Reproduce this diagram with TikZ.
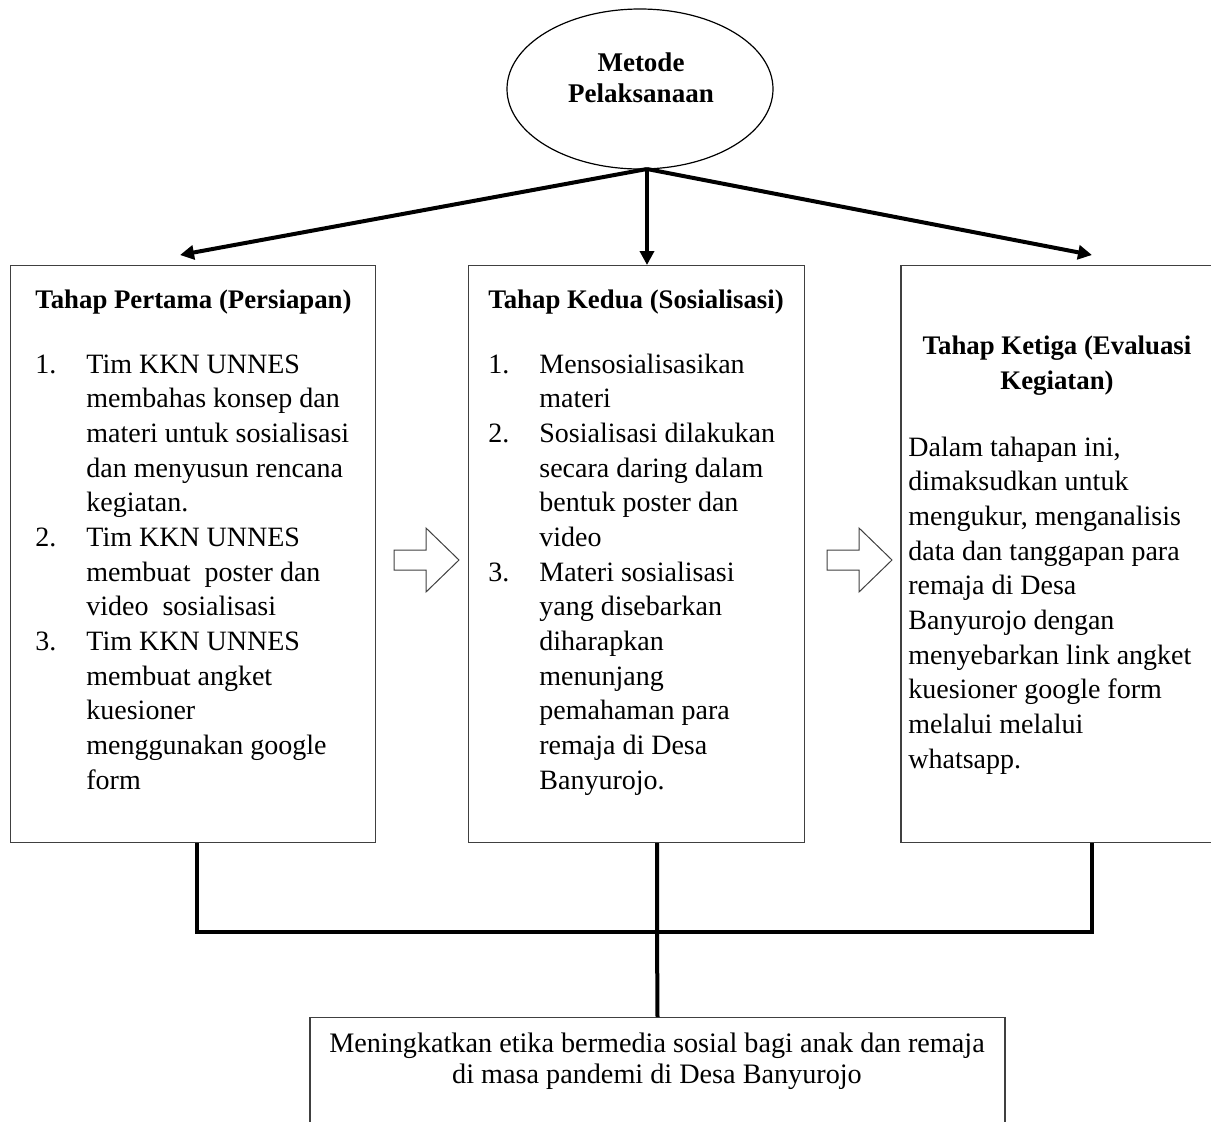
\documentclass[tikz,border=0pt]{standalone}
\usepackage{fontspec}
\setmainfont{Liberation Serif}
\usetikzlibrary{arrows.meta,positioning,shapes.geometric}
\newcommand{\nomor}[1]{\makebox[25.5pt][l]{#1}}
\newcommand{\lanjut}{\hspace*{25.5pt}}
\newcommand{\kepala}[1]{\textbf{\fontsize{13.4}{17.33}\selectfont #1}}

\begin{document}
\begin{tikzpicture}[x=0.5pt,y=-0.5pt,>={Triangle[length=7pt,width=7pt]},
 tahap/.style={draw=black!75,line width=0.6pt,anchor=north west,inner sep=0pt,minimum height=288.5pt},
 isi/.style={anchor=base west,inner sep=0pt,align=left,font=\fontsize{14}{17.33}\selectfont},
 judul/.style={inner sep=0pt,align=center,font=\bfseries\fontsize{13.4}{17.33}\selectfont},
 panah/.style={->,line width=2pt},
 garis/.style={line width=2pt},
 geser/.style={draw=black!75,line width=0.5pt,fill=white}]
\useasboundingbox (0,0) rectangle (1211,1121);
\clip (0,0) rectangle (1211,1121);
% puncak
\node[draw,ellipse,line width=0.6pt,minimum width=133pt,minimum height=80pt,inner sep=0pt] (metode) at (640,89) {};
\node[judul,font=\bfseries\fontsize{13.5}{15.5}\selectfont] (metodeteks) at (641,78) {Metode\\Pelaksanaan};
% tiga tahap
\node[tahap,minimum width=182.5pt] (pertama) at (10,265) {};
\node[tahap,minimum width=168pt,right=46pt of pertama.north east,anchor=north west] (kedua) {};
\node[tahap,minimum width=170pt,right=47.5pt of kedua.north east,anchor=north west] (ketiga) {};
% base = garis dasar baris terakhir
\node[isi] (isipertama) at (35,789) {\kepala{Tahap Pertama (Persiapan)}\\[15.2pt]
 \nomor{1.}Tim KKN UNNES\\\lanjut membahas konsep dan\\\lanjut materi untuk sosialisasi\\
 \lanjut dan menyusun rencana\\\lanjut kegiatan.\\
 \nomor{2.}Tim KKN UNNES\\\lanjut membuat~ poster dan\\\lanjut video~ sosialisasi\\
 \nomor{3.}Tim KKN UNNES\\\lanjut membuat angket\\\lanjut kuesioner\\\lanjut menggunakan google\\\lanjut form};
\node[isi] (isikedua) at (488,789) {\kepala{Tahap Kedua (Sosialisasi)}\\[15.2pt]
 \nomor{1.}Mensosialisasikan\\\lanjut materi\\
 \nomor{2.}Sosialisasi dilakukan\\\lanjut secara daring dalam\\\lanjut bentuk poster dan\\\lanjut video\\
 \nomor{3.}Materi sosialisasi\\\lanjut yang disebarkan\\\lanjut diharapkan\\\lanjut menunjang\\
 \lanjut pemahaman para\\\lanjut remaja di Desa\\\lanjut Banyurojo.};
\node[judul,anchor=base] (judulketiga) at (1057,389) {Tahap Ketiga (Evaluasi\\Kegiatan)};
\node[isi] (isiketiga) at (908,768) {Dalam tahapan ini,\\dimaksudkan untuk\\mengukur, menganalisis\\
 data dan tanggapan para\\remaja di Desa\\Banyurojo dengan\\menyebarkan link angket\\
 kuesioner google form\\melalui melalui\\whatsapp.};
% panah antar tahap
\draw[geser] (394,550) -- (426,550) -- (426,528) -- (459,560) -- (426,592) -- (426,570) -- (394,570) -- cycle;
\draw[geser] (827,550) -- (859,550) -- (859,528) -- (892,560) -- (859,592) -- (859,570) -- (827,570) -- cycle;
% hasil
\node[tahap,anchor=north,minimum width=347.5pt,minimum height=80pt] (hasil) at (657.5,1017) {};
\node[inner sep=0pt,align=center,anchor=base,font=\fontsize{14.1}{15.5}\selectfont] (isihasil) at (657,1083)
 {Meningkatkan etika bermedia sosial bagi anak dan remaja\\di masa pandemi di Desa Banyurojo};
% penghubung
\coordinate (pusat) at (647,169);
\coordinate (ujungkiri) at (180,255);
\coordinate (ujungkanan) at (1092,255);
\coordinate (simpulkiri) at (197,932);
\coordinate (simpultengah) at (657,932);
\coordinate (simpulkanan) at (1092,932);
\draw[panah] (pusat)--(ujungkiri);
\draw[panah] (pusat)--(pusat |- kedua.north);
\draw[panah] (pusat)--(ujungkanan);
\draw[garis] (simpulkiri |- pertama.south)--(simpulkiri)--(simpulkanan)--(simpulkanan |- ketiga.south);
\draw[garis] (simpultengah |- kedua.south)--(simpultengah)--(hasil.north);
\end{tikzpicture}
\end{document}
